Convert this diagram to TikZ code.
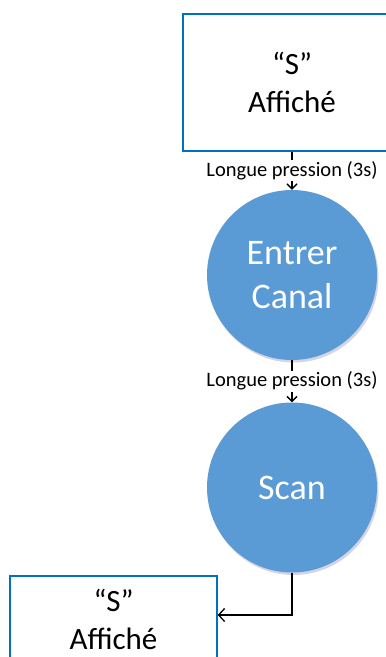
\documentclass[tikz,border=0pt]{standalone}
\usepackage{fontspec}
\setmainfont{Carlito}
\usetikzlibrary{arrows.meta,shadows}
\definecolor{boxblue}{HTML}{0070C0}
\definecolor{circblue}{HTML}{5B9BD5}
\tikzset{
    state-box/.style = {draw=boxblue, fill=white, line width=1.4pt, rectangle, align=center, inner sep=0pt, font=\fontsize{31}{38}\selectfont},
    state-circle/.style = {circle, fill=circblue, text=white, minimum size=170pt, inner sep=0pt, align=center, font=\fontsize{36}{44}\selectfont,
        drop shadow={shadow xshift=1.5pt, shadow yshift=-2.5pt, fill=blue!25!gray!45, opacity=0.6}},
    press-label/.style = {fill=white, inner sep=1pt, font=\fontsize{20.5}{23}\selectfont},
    link/.style = {line width=1.3pt, -{Straight Barb[length=5pt, width=10pt]}},
}

\begin{document}
\begin{tikzpicture}[x=1pt, y=-1pt]
\useasboundingbox (0,0) rectangle (386,657);
\node [state-box, minimum width=218pt, minimum height=137pt] (affiche-top) at (292,82.5) {``S''\\Affiché};
\node [state-circle] (entrer) at (292,275) {Entrer\\Canal};
\node [state-circle] (scan) at (292,487.5) {Scan};
\node [state-box, minimum width=207pt, minimum height=86pt] (affiche-bottom) at (113.5,619) {``S''\\Affiché};
\draw [link] (affiche-top) -- node[press-label] {Longue pression (3s)} (entrer);
\draw [link] (entrer) -- node[press-label] {Longue pression (3s)} (scan);
\draw [link, -{Straight Barb[length=6pt, width=13pt]}] (scan) |- ([yshift=4pt]affiche-bottom.east);
\end{tikzpicture}
\end{document}
